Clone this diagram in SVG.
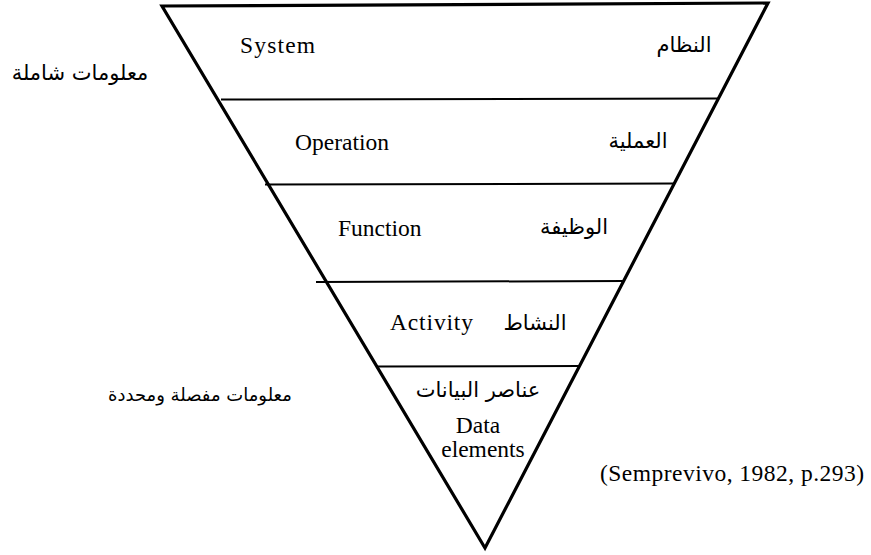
<svg xmlns="http://www.w3.org/2000/svg" width="871" height="555" viewBox="0 0 871 555">
  <style>
    .edge { fill: none; stroke: #000; stroke-width: 3.2; stroke-linejoin: miter; }
    .div { stroke: #000; stroke-width: 2; }
    .en { font-family: "Liberation Serif", "Times New Roman", serif; font-size: 23.5px; fill: #000; }
    .ar { font-family: "DejaVu Sans", "Noto Sans", sans-serif; font-size: 21px; fill: #000; }
  </style>
  <rect width="871" height="555" fill="#fff"/>

  <!-- inverted triangle outline -->
  <g id="pyramid">
    <polygon class="edge" points="162,6 768,3 485,548"/>
  </g>

  <!-- level dividers -->
  <g id="connectors">
    <line class="div" x1="221" y1="99.5" x2="718" y2="98.5"/>
    <line class="div" x1="265" y1="184.5" x2="675" y2="183.5"/>
    <line class="div" x1="316" y1="282" x2="624" y2="281"/>
    <line class="div" x1="377" y1="366.5" x2="580" y2="366"/>
  </g>

  <g id="level-system">
    <text class="en" x="240" y="53" textLength="75" lengthAdjust="spacing">System</text>
    <text class="ar" x="684" y="52" text-anchor="middle">النظام</text>
  </g>

  <g id="level-operation">
    <text class="en" x="295" y="150">Operation</text>
    <text class="ar" x="638" y="148" text-anchor="middle">العملية</text>
  </g>

  <g id="level-function">
    <text class="en" x="338" y="236">Function</text>
    <text class="ar" x="574" y="234" text-anchor="middle">الوظيفة</text>
  </g>

  <g id="level-activity">
    <text class="en" x="390" y="330" textLength="83" lengthAdjust="spacing">Activity</text>
    <text class="ar" x="535" y="330" text-anchor="middle">النشاط</text>
  </g>

  <g id="level-data">
    <text class="ar" x="478" y="397">
      <tspan text-anchor="middle">عناصر البيانات</tspan>
    </text>
    <text class="en" x="478" y="433" text-anchor="middle">Data</text>
    <text class="en" x="483" y="457" text-anchor="middle">elements</text>
  </g>

  <g id="label-general">
    <text class="ar" x="80" y="80" text-anchor="middle">معلومات شاملة</text>
  </g>

  <g id="label-detailed">
    <text class="ar" x="200" y="401" text-anchor="middle" style="font-size:18px">معلومات مفصلة ومحددة</text>
  </g>

  <g id="citation">
    <text class="en" x="600" y="481" textLength="264" lengthAdjust="spacing">(Semprevivo, 1982, p.293)</text>
  </g>
</svg>
